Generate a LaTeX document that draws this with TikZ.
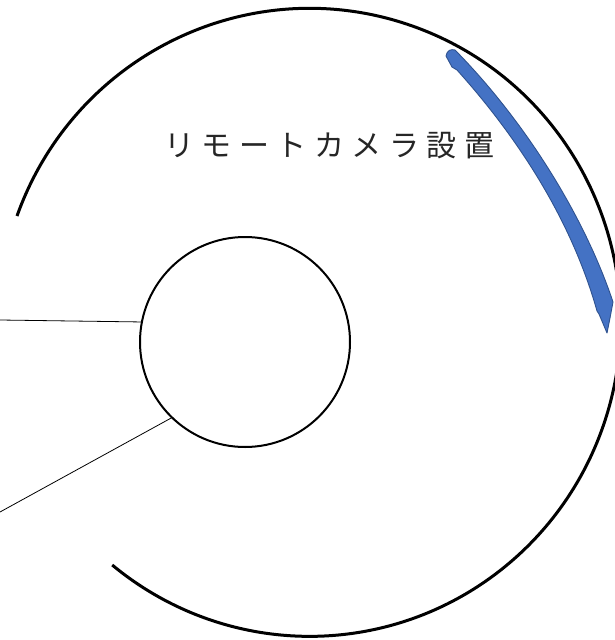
\documentclass[tikz,border=0pt]{standalone}
\usepackage{fontspec}
\newfontfamily\jpfont{Noto Sans CJK JP}
\newcommand\jpgap{\hspace{7.5pt}}
\definecolor{bandblue}{RGB}{68,114,196}
\definecolor{bandedge}{RGB}{47,82,143}
\definecolor{txtgray}{RGB}{38,38,38}
\begin{document}
\begin{tikzpicture}[x=1pt,y=-1pt,
  bigarc/.style={draw=black,line width=3pt},
  ring/.style={circle,draw=black,line width=2pt,minimum size=210pt,inner sep=0pt,outer sep=0pt,fill=white},
  wire/.style={draw=black,line width=0.8pt},
  band/.style={fill=bandblue,draw=bandedge,line width=0.9pt,line join=round},
  title/.style={text=txtgray,font=\jpfont\fontsize{30pt}{36pt}\selectfont,inner sep=0pt}]
\useasboundingbox (0,0) rectangle (615,640);
\fill[white] (0,0) rectangle (615,640);
% large open ring
\draw[bigarc] (17,216) arc[start angle=-160.2, end angle=129.4, x radius=311, y radius=314];
% blue curved band
\path[band] (455,50) .. controls (524,120) and (584,215) .. (613,302)
  -- (610,318) -- (607,333) -- (599,314) -- (597,311)
  .. controls (572,222) and (520,140) .. (457,70)
  -- (452,67) -- (446,56) .. controls (447,50) and (451,49) .. (455,50) -- cycle;
% inner circle
\node[ring] (hub) at (245,342) {};
% connectors
\coordinate (l1) at (0,320);
\coordinate (l2) at (0,512);
\draw[wire] (l1) -- (hub.169);
\draw[wire] (l2) -- (hub.226);
% label
\node[title] (cap) at (329,146) {リ\jpgap モ\jpgap ー\jpgap ト\jpgap カ\jpgap メ\jpgap ラ\jpgap 設\jpgap 置};
\end{tikzpicture}
\end{document}
